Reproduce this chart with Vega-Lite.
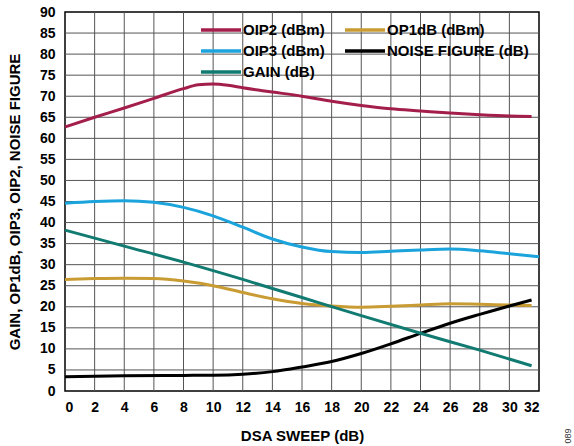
{
  "$schema": "https://vega.github.io/schema/vega-lite/v6.json",
  "width": 474,
  "height": 379,
  "autosize": {"type": "none"},
  "padding": {"left": 65, "top": 12, "right": 35, "bottom": 55},
  "background": "white",
  "config": {
    "font": "Liberation Sans",
    "view": {"stroke": "black", "strokeWidth": 1.5},
    "axis": {
      "labelFont": "Liberation Sans",
      "labelFontWeight": "bold",
      "labelFontSize": 14,
      "labelColor": "black",
      "titleFont": "Liberation Sans",
      "titleFontWeight": "bold",
      "titleFontSize": 15,
      "titleColor": "black",
      "grid": false,
      "domain": false,
      "ticks": false
    }
  },
  "datasets": {
    "curves": [
      {"x": 0, "v": 62.7, "s": "OIP2 (dBm)"},
      {"x": 2, "v": 65.0, "s": "OIP2 (dBm)"},
      {"x": 4, "v": 67.2, "s": "OIP2 (dBm)"},
      {"x": 6, "v": 69.5, "s": "OIP2 (dBm)"},
      {"x": 8, "v": 71.8, "s": "OIP2 (dBm)"},
      {"x": 9, "v": 72.7, "s": "OIP2 (dBm)"},
      {"x": 10, "v": 72.9, "s": "OIP2 (dBm)"},
      {"x": 11, "v": 72.6, "s": "OIP2 (dBm)"},
      {"x": 12, "v": 72.0, "s": "OIP2 (dBm)"},
      {"x": 14, "v": 71.0, "s": "OIP2 (dBm)"},
      {"x": 16, "v": 70.0, "s": "OIP2 (dBm)"},
      {"x": 18, "v": 68.8, "s": "OIP2 (dBm)"},
      {"x": 20, "v": 67.8, "s": "OIP2 (dBm)"},
      {"x": 22, "v": 67.0, "s": "OIP2 (dBm)"},
      {"x": 24, "v": 66.5, "s": "OIP2 (dBm)"},
      {"x": 26, "v": 66.0, "s": "OIP2 (dBm)"},
      {"x": 28, "v": 65.6, "s": "OIP2 (dBm)"},
      {"x": 30, "v": 65.3, "s": "OIP2 (dBm)"},
      {"x": 31.5, "v": 65.2, "s": "OIP2 (dBm)"},
      {"x": 0, "v": 26.5, "s": "OP1dB (dBm)"},
      {"x": 2, "v": 26.7, "s": "OP1dB (dBm)"},
      {"x": 4, "v": 26.8, "s": "OP1dB (dBm)"},
      {"x": 6, "v": 26.7, "s": "OP1dB (dBm)"},
      {"x": 8, "v": 26.1, "s": "OP1dB (dBm)"},
      {"x": 10, "v": 25.0, "s": "OP1dB (dBm)"},
      {"x": 12, "v": 23.4, "s": "OP1dB (dBm)"},
      {"x": 14, "v": 21.9, "s": "OP1dB (dBm)"},
      {"x": 16, "v": 20.8, "s": "OP1dB (dBm)"},
      {"x": 18, "v": 20.2, "s": "OP1dB (dBm)"},
      {"x": 20, "v": 19.9, "s": "OP1dB (dBm)"},
      {"x": 22, "v": 20.1, "s": "OP1dB (dBm)"},
      {"x": 24, "v": 20.4, "s": "OP1dB (dBm)"},
      {"x": 26, "v": 20.7, "s": "OP1dB (dBm)"},
      {"x": 28, "v": 20.6, "s": "OP1dB (dBm)"},
      {"x": 30, "v": 20.4, "s": "OP1dB (dBm)"},
      {"x": 31.5, "v": 20.3, "s": "OP1dB (dBm)"},
      {"x": 0, "v": 44.6, "s": "OIP3 (dBm)"},
      {"x": 2, "v": 45.0, "s": "OIP3 (dBm)"},
      {"x": 4, "v": 45.2, "s": "OIP3 (dBm)"},
      {"x": 6, "v": 44.8, "s": "OIP3 (dBm)"},
      {"x": 8, "v": 43.6, "s": "OIP3 (dBm)"},
      {"x": 10, "v": 41.6, "s": "OIP3 (dBm)"},
      {"x": 12, "v": 38.9, "s": "OIP3 (dBm)"},
      {"x": 14, "v": 36.1, "s": "OIP3 (dBm)"},
      {"x": 16, "v": 34.2, "s": "OIP3 (dBm)"},
      {"x": 18, "v": 33.1, "s": "OIP3 (dBm)"},
      {"x": 20, "v": 32.9, "s": "OIP3 (dBm)"},
      {"x": 22, "v": 33.2, "s": "OIP3 (dBm)"},
      {"x": 24, "v": 33.5, "s": "OIP3 (dBm)"},
      {"x": 26, "v": 33.7, "s": "OIP3 (dBm)"},
      {"x": 28, "v": 33.3, "s": "OIP3 (dBm)"},
      {"x": 30, "v": 32.6, "s": "OIP3 (dBm)"},
      {"x": 32, "v": 31.9, "s": "OIP3 (dBm)"},
      {"x": 0, "v": 3.4, "s": "NOISE FIGURE (dB)"},
      {"x": 4, "v": 3.6, "s": "NOISE FIGURE (dB)"},
      {"x": 8, "v": 3.7, "s": "NOISE FIGURE (dB)"},
      {"x": 10, "v": 3.75, "s": "NOISE FIGURE (dB)"},
      {"x": 12, "v": 4.0, "s": "NOISE FIGURE (dB)"},
      {"x": 14, "v": 4.6, "s": "NOISE FIGURE (dB)"},
      {"x": 16, "v": 5.7, "s": "NOISE FIGURE (dB)"},
      {"x": 18, "v": 7.0, "s": "NOISE FIGURE (dB)"},
      {"x": 20, "v": 8.9, "s": "NOISE FIGURE (dB)"},
      {"x": 22, "v": 11.2, "s": "NOISE FIGURE (dB)"},
      {"x": 24, "v": 13.7, "s": "NOISE FIGURE (dB)"},
      {"x": 26, "v": 16.1, "s": "NOISE FIGURE (dB)"},
      {"x": 28, "v": 18.2, "s": "NOISE FIGURE (dB)"},
      {"x": 30, "v": 20.2, "s": "NOISE FIGURE (dB)"},
      {"x": 31.5, "v": 21.6, "s": "NOISE FIGURE (dB)"},
      {"x": 0, "v": 38.2, "s": "GAIN (dB)"},
      {"x": 4, "v": 34.4, "s": "GAIN (dB)"},
      {"x": 8, "v": 30.6, "s": "GAIN (dB)"},
      {"x": 12, "v": 26.5, "s": "GAIN (dB)"},
      {"x": 16, "v": 22.2, "s": "GAIN (dB)"},
      {"x": 20, "v": 17.9, "s": "GAIN (dB)"},
      {"x": 24, "v": 13.7, "s": "GAIN (dB)"},
      {"x": 28, "v": 9.7, "s": "GAIN (dB)"},
      {"x": 31.5, "v": 6.0, "s": "GAIN (dB)"}
    ],
    "xgrid": [
      {"x": 2}, {"x": 4}, {"x": 6}, {"x": 8}, {"x": 10}, {"x": 12}, {"x": 14}, {"x": 16},
      {"x": 18}, {"x": 20}, {"x": 22}, {"x": 24}, {"x": 26}, {"x": 28}, {"x": 30}
    ],
    "ygrid": [
      {"v": 5}, {"v": 10}, {"v": 15}, {"v": 20}, {"v": 25}, {"v": 30}, {"v": 35}, {"v": 40}, {"v": 45},
      {"v": 50}, {"v": 55}, {"v": 60}, {"v": 65}, {"v": 70}, {"v": 75}, {"v": 80}, {"v": 85}
    ],
    "note": [{"t": "089", "x": 32, "v": 0}]
  },
  "layer": [
    {
      "data": {"name": "xgrid"},
      "mark": {"type": "rule", "color": "#555555", "strokeWidth": 1},
      "encoding": {
        "x": {
          "field": "x",
          "type": "quantitative",
          "scale": {"domain": [0, 32], "nice": false},
          "axis": {
            "values": [0, 2, 4, 6, 8, 10, 12, 14, 16, 18, 20, 22, 24, 26, 28, 30, 32],
            "title": "DSA SWEEP (dB)",
            "labelPadding": 9,
            "titlePadding": 14
          }
        }
      }
    },
    {
      "data": {"name": "ygrid"},
      "mark": {"type": "rule", "color": "#555555", "strokeWidth": 1},
      "encoding": {
        "y": {
          "field": "v",
          "type": "quantitative",
          "scale": {"domain": [0, 90], "nice": false},
          "axis": {
            "values": [0, 5, 10, 15, 20, 25, 30, 35, 40, 45, 50, 55, 60, 65, 70, 75, 80, 85, 90],
            "title": "GAIN, OP1dB, OIP3, OIP2, NOISE FIGURE",
            "labelPadding": 10,
            "titlePadding": 17
          }
        }
      }
    },
    {
      "data": {"name": "curves"},
      "mark": {"type": "line", "strokeWidth": 3, "interpolate": "monotone"},
      "encoding": {
        "x": {
          "field": "x",
          "type": "quantitative",
          "scale": {"domain": [0, 32], "nice": false},
          "axis": {
            "values": [0, 2, 4, 6, 8, 10, 12, 14, 16, 18, 20, 22, 24, 26, 28, 30, 32],
            "title": "DSA SWEEP (dB)",
            "labelPadding": 9,
            "titlePadding": 14
          }
        },
        "y": {
          "field": "v",
          "type": "quantitative",
          "scale": {"domain": [0, 90], "nice": false},
          "axis": {
            "values": [0, 5, 10, 15, 20, 25, 30, 35, 40, 45, 50, 55, 60, 65, 70, 75, 80, 85, 90],
            "title": "GAIN, OP1dB, OIP3, OIP2, NOISE FIGURE",
            "labelPadding": 10,
            "titlePadding": 17
          }
        },
        "color": {
          "field": "s",
          "type": "nominal",
          "scale": {
            "domain": ["OIP2 (dBm)", "OIP3 (dBm)", "GAIN (dB)", "OP1dB (dBm)", "NOISE FIGURE (dB)"],
            "range": ["#A41E4C", "#1BA3DC", "#117B72", "#C99C33", "#000000"]
          },
          "legend": {
            "title": null,
            "orient": "top-right",
            "offset": 7,
            "columns": 2,
            "columnPadding": 13,
            "rowPadding": 5,
            "padding": 3,
            "symbolType": "M-1.333,0H5.333",
            "symbolSize": 144,
            "symbolStrokeWidth": 3.5,
            "labelFont": "Liberation Sans",
            "labelFontWeight": "bold",
            "labelFontSize": 15,
            "labelColor": "black",
            "labelOffset": 26,
            "labelLimit": 300
          }
        }
      }
    },
    {
      "data": {"name": "note"},
      "mark": {"type": "text", "angle": 270, "align": "center", "baseline": "middle", "fontSize": 9, "font": "Liberation Sans", "color": "#333333", "dx": -45, "dy": 29},
      "encoding": {
        "x": {
          "field": "x",
          "type": "quantitative",
          "scale": {"domain": [0, 32], "nice": false},
          "axis": {
            "values": [0, 2, 4, 6, 8, 10, 12, 14, 16, 18, 20, 22, 24, 26, 28, 30, 32],
            "title": "DSA SWEEP (dB)",
            "labelPadding": 9,
            "titlePadding": 14
          }
        },
        "y": {
          "field": "v",
          "type": "quantitative",
          "scale": {"domain": [0, 90], "nice": false},
          "axis": {
            "values": [0, 5, 10, 15, 20, 25, 30, 35, 40, 45, 50, 55, 60, 65, 70, 75, 80, 85, 90],
            "title": "GAIN, OP1dB, OIP3, OIP2, NOISE FIGURE",
            "labelPadding": 10,
            "titlePadding": 17
          }
        },
        "text": {"field": "t"}
      }
    }
  ]
}
